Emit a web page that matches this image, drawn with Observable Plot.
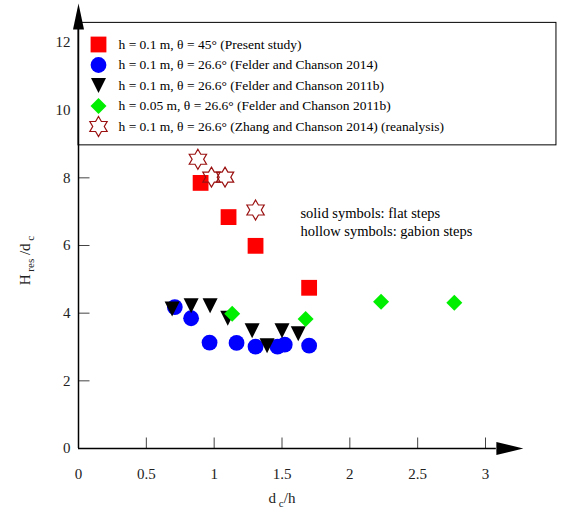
<!DOCTYPE html>
<html><head><meta charset="utf-8">
<script src="https://cdn.jsdelivr.net/npm/d3@7"></script>
<script src="https://cdn.jsdelivr.net/npm/@observablehq/plot@0.6"></script>
<style>body{margin:0;background:#fff}</style>
</head><body><div id="chart"></div>
<script>
// ---- data ----
const xTicks = [0, 0.5, 1, 1.5, 2, 2.5, 3];
const yTicks = [0, 2, 4, 6, 8, 10, 12];

const presentX = [0.90, 1.106, 1.305, 1.70];
const presentY = [7.85, 6.84, 5.99, 4.75];

const felder2014X = [0.71, 0.83, 0.966, 1.165, 1.305, 1.467, 1.52, 1.70];
const felder2014Y = [4.18, 3.85, 3.13, 3.12, 3.01, 3.01, 3.07, 3.04];

const felder2011bX = [0.69, 0.83, 0.97, 1.10, 1.28, 1.39, 1.50, 1.62];
const felder2011bY = [4.12, 4.22, 4.22, 3.85, 3.48, 3.04, 3.48, 3.39];

const felder2011b05X = [1.133, 1.674, 2.23, 2.77];
const felder2011b05Y = [3.98, 3.83, 4.34, 4.31];

const zhangX = [0.88, 0.98, 1.08, 1.305];
const zhangY = [8.55, 8.02, 8.02, 7.05];

const seriesLabels = [
  "h = 0.1 m, θ = 45° (Present study)",
  "h = 0.1 m, θ = 26.6° (Felder and Chanson 2014)",
  "h = 0.1 m, θ = 26.6° (Felder and Chanson 2011b)",
  "h = 0.05 m, θ = 26.6° (Felder and Chanson 2011b)",
  "h = 0.1 m, θ = 26.6° (Zhang and Chanson 2014) (reanalysis)"
];
const noteLines = ["solid symbols: flat steps", "hollow symbols: gabion steps"];
const xLabelParts = [["d", false], [" c", true], ["/h", false]];
const yLabelParts = [["H", false], [" res", true], [" /d", false], [" c", true]];

// ---- symbols ----
const rOf = s => Math.sqrt(s / Math.PI);
const squareSym = {draw(c, s) { const r = rOf(s); c.rect(-r, -r, 2 * r, 2 * r); }};
const triDownSym = {draw(c, s) { const r = rOf(s); c.moveTo(-r, -r); c.lineTo(r, -r); c.lineTo(0, r); c.closePath(); }};
const diamondSym = {draw(c, s) { const r = rOf(s); c.moveTo(0, -r); c.lineTo(r, 0); c.lineTo(0, r); c.lineTo(-r, 0); c.closePath(); }};
const hexagramSym = {draw(c, s) {
  const R = rOf(s), ri = R / Math.sqrt(3);
  for (let k = 0; k < 12; k++) {
    const a = -Math.PI / 2 + k * Math.PI / 6, rr = k % 2 ? ri : R;
    const px = rr * Math.cos(a), py = rr * Math.sin(a);
    k ? c.lineTo(px, py) : c.moveTo(px, py);
  }
  c.closePath();
}};
const tickUpSym = {draw(c) { c.moveTo(0, 0); c.lineTo(0, -11); }};
const tickRightSym = {draw(c) { c.moveTo(0, 0); c.lineTo(11, 0); }};
const arrowUpSym = {draw(c) { c.moveTo(0, -26); c.lineTo(5.5, 0); c.lineTo(-5.5, 0); c.closePath(); }};
const arrowRightSym = {draw(c) { c.moveTo(27, 0); c.lineTo(0, -6.5); c.lineTo(0, 6.5); c.closePath(); }};

const series = [
  {X: presentX, Y: presentY, symbol: squareSym, r: 7.9, fill: "#ff0000", stroke: "none"},
  {X: felder2014X, Y: felder2014Y, symbol: "circle", r: 7.9, fill: "#0000ff", stroke: "none"},
  {X: felder2011bX, Y: felder2011bY, symbol: triDownSym, r: 7.5, fill: "#000000", stroke: "none"},
  {X: felder2011b05X, Y: felder2011b05Y, symbol: diamondSym, r: 8, fill: "#00ee00", stroke: "none"},
  {X: zhangX, Y: zhangY, symbol: hexagramSym, r: 10, fill: "none", stroke: "#9a1010"}
];

const serif = "Liberation Serif, Times New Roman, serif";
const X_END = 3.08, Y_END = 12.385;      // axis line ends (data units)
const LEG = {x2: 3.523, y1: 8.96, y2: 12.58};

const marks = [];
// ticks
marks.push(Plot.dot(xTicks.filter(t => t > 0), {x: d => d, y: 0, symbol: tickUpSym, fill: "none", stroke: "#444", strokeWidth: 1}));
marks.push(Plot.dot(yTicks.filter(t => t > 0), {x: 0, y: d => d, symbol: tickRightSym, fill: "none", stroke: "#444", strokeWidth: 1}));
// tick labels
marks.push(Plot.text(xTicks, {x: d => d, y: 0, text: d => String(d), dy: 26, fontSize: 15, fontFamily: serif, fill: "#222"}));
marks.push(Plot.text(yTicks, {x: 0, y: d => d, text: d => String(d), dx: -8, textAnchor: "end", fontSize: 15, fontFamily: serif, fill: "#222"}));
// data
for (const s of series) {
  marks.push(Plot.dot(s.X.map((x, i) => ({x, y: s.Y[i]})), {x: "x", y: "y", symbol: s.symbol, r: s.r, fill: s.fill, stroke: s.stroke, strokeWidth: 1.2}));
}
// legend box
marks.push(Plot.rect([0], {x1: 0, x2: LEG.x2, y1: LEG.y1, y2: LEG.y2, fill: "white", stroke: "black", strokeWidth: 1}));
series.forEach((s, i) => {
  marks.push(Plot.dot([i], {frameAnchor: "top-left", dx: 20, dy: 2 + i * 20.5, symbol: s.symbol, r: s.r, fill: s.fill, stroke: s.stroke, strokeWidth: 1.2}));
  marks.push(Plot.text([seriesLabels[i]], {frameAnchor: "top-left", dx: 40, dy: 2 + i * 20.5, text: d => d, textAnchor: "start", lineAnchor: "middle", fontSize: 13.5, fontFamily: serif, fill: "black"}));
});
// axes lines + arrows
marks.push(Plot.ruleY([0], {x1: 0, x2: X_END, stroke: "black", strokeWidth: 1.5}));
marks.push(Plot.ruleX([0], {y1: 0, y2: Y_END, stroke: "black", strokeWidth: 1.5}));
marks.push(Plot.dot([0], {x: X_END, y: 0, symbol: arrowRightSym, fill: "black", stroke: "none"}));
marks.push(Plot.dot([0], {x: 0, y: Y_END, symbol: arrowUpSym, fill: "black", stroke: "none"}));
// annotation
marks.push(Plot.text([noteLines.join("\n")], {x: 1.636, y: 7.2, text: d => d, textAnchor: "start", lineAnchor: "top", lineHeight: 1.25, fontSize: 14.5, fontFamily: serif, fill: "black"}));
// axis labels
const xLabelText = xLabelParts.map(p => p[0]).join("");
const yLabelText = yLabelParts.map(p => p[0]).join("");
marks.push(Plot.text([xLabelText], {x: 1.5, y: 0, text: d => d, dy: 50, fontSize: 15, fontFamily: serif, fill: "#222"}));
marks.push(Plot.text([yLabelText], {frameAnchor: "left", dx: -53, dy: 15, rotate: -90, textAnchor: "middle", text: d => d, fontSize: 15, fontFamily: serif, fill: "#222"}));

const chart = Plot.plot({
  width: 562, height: 516,
  marginLeft: 78, marginRight: 77, marginTop: 42, marginBottom: 68,
  x: {domain: [0, 3], axis: null},
  y: {domain: [0, 12], axis: null},
  style: {background: "white", overflow: "visible"},
  marks
});
document.getElementById("chart").appendChild(chart);

// subscripts in axis labels
function applyParts(txt, parts) {
  d3.select(chart).selectAll("text").filter(function () { return this.textContent === txt; }).each(function () {
    const el = d3.select(this);
    el.text(null);
    let shifted = false;
    for (const [str, sub] of parts) {
      const t = el.append("tspan").text(str);
      if (sub && !shifted) { t.attr("dy", 4).attr("font-size", 11); shifted = true; }
      else if (sub) { t.attr("font-size", 11); }
      else if (shifted) { t.attr("dy", -4); shifted = false; }
    }
  });
}
applyParts(xLabelText, xLabelParts);
applyParts(yLabelText, yLabelParts);
</script></body></html>
